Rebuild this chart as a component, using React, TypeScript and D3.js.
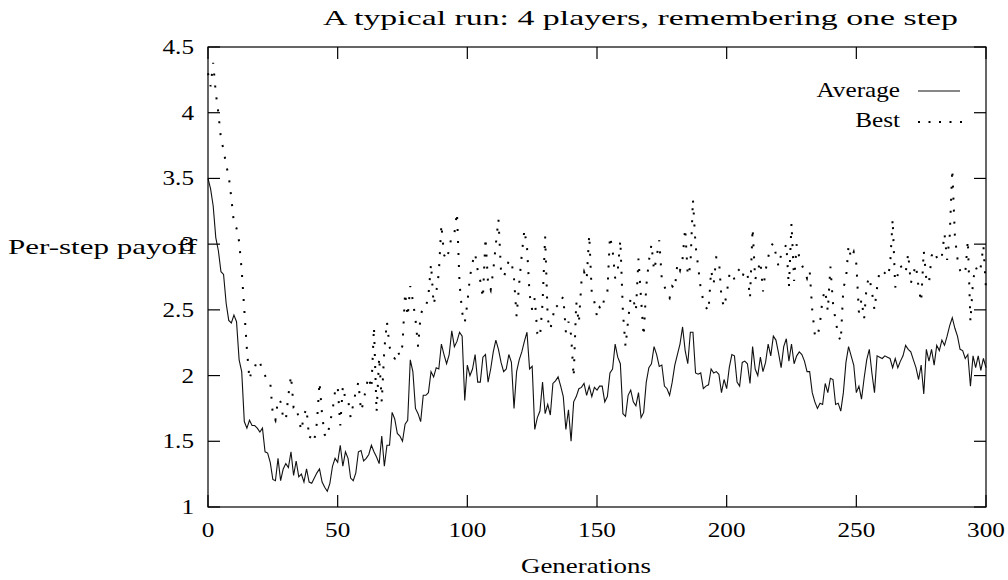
import React from "react";
import * as d3 from "d3";

const averagePayoff: number[] = [
  3.50,3.42,3.29,3.05,2.95,2.79,2.77,2.55,2.42,2.40,
  2.46,2.41,2.12,2.03,1.65,1.60,1.66,1.62,1.62,1.60,
  1.57,1.60,1.42,1.41,1.34,1.21,1.20,1.37,1.20,1.29,
  1.33,1.30,1.42,1.24,1.35,1.23,1.25,1.19,1.29,1.19,
  1.18,1.22,1.26,1.29,1.19,1.15,1.12,1.18,1.31,1.37,
  1.34,1.47,1.31,1.42,1.37,1.22,1.20,1.26,1.42,1.43,
  1.35,1.37,1.40,1.47,1.42,1.38,1.33,1.54,1.31,1.47,
  1.47,1.72,1.67,1.56,1.54,1.50,1.63,1.66,2.12,2.03,
  1.75,1.71,1.65,1.85,1.85,1.87,2.03,1.99,2.06,2.05,
  2.24,2.16,2.09,2.16,2.34,2.22,2.26,2.33,2.30,1.81,
  2.08,2.00,2.05,2.16,1.95,1.95,2.14,2.16,1.95,2.05,
  2.18,2.27,2.20,2.10,2.03,2.05,2.16,2.10,1.75,2.03,
  2.12,2.18,2.26,2.33,2.05,2.07,1.59,1.68,1.73,1.95,
  1.71,1.78,1.70,1.94,1.96,1.99,1.92,1.84,1.59,1.74,
  1.50,1.80,1.84,1.90,1.91,1.94,1.85,1.92,1.84,1.91,
  1.89,1.92,1.92,1.80,1.84,2.02,2.05,2.24,2.14,2.09,
  1.71,1.69,1.85,1.89,1.80,1.77,1.87,1.68,1.72,1.95,
  2.06,2.09,2.22,2.16,2.07,2.08,1.92,1.90,1.85,1.95,
  2.08,2.16,2.24,2.37,2.19,2.09,2.33,2.33,2.02,2.01,
  2.02,1.90,1.92,1.93,2.05,2.02,2.03,2.01,1.87,1.97,
  1.90,2.06,2.16,2.15,1.95,1.92,2.10,2.11,2.09,1.94,
  2.22,2.05,2.00,2.14,2.03,2.10,2.24,2.15,2.30,2.27,
  2.17,2.06,2.22,2.28,2.11,2.24,2.09,2.15,2.18,2.16,
  2.11,2.03,2.03,1.87,1.80,1.75,1.79,1.78,1.94,1.87,
  1.98,1.97,1.78,1.79,1.73,1.87,2.10,2.22,2.15,2.08,
  1.87,1.92,1.82,1.98,2.12,2.20,2.02,1.87,2.15,2.14,
  2.13,2.15,2.14,2.13,2.06,2.13,2.06,2.11,2.15,2.23,
  2.20,2.18,2.12,2.06,1.97,2.08,1.86,2.20,2.11,2.20,
  2.08,2.23,2.19,2.27,2.23,2.30,2.38,2.44,2.36,2.30,
  2.20,2.19,2.13,2.16,1.92,2.15,2.06,2.15,2.04,2.13,
  2.06,
];

const bestPayoff: number[] = [
  4.30,4.20,4.38,4.15,4.00,3.80,3.72,3.60,3.52,3.35,
  3.16,3.12,3.02,2.80,2.50,2.20,1.97,2.05,2.06,2.12,
  2.10,2.04,2.00,1.96,1.95,1.70,1.66,1.82,1.80,1.68,
  1.66,1.85,2.00,1.76,1.77,1.67,1.58,1.70,1.75,1.52,
  1.55,1.51,1.64,1.95,1.70,1.55,1.53,1.64,1.73,1.88,
  1.92,1.62,1.92,1.82,1.82,1.68,1.78,1.88,1.95,1.73,
  1.80,1.92,1.99,1.90,2.37,1.72,2.14,1.80,2.20,2.41,
  2.22,2.15,2.13,2.19,2.15,2.23,2.63,2.45,2.68,2.57,
  2.43,2.22,2.46,2.52,2.52,2.61,2.85,2.54,2.63,2.78,
  3.15,2.92,2.88,2.96,3.07,3.08,3.24,2.70,2.48,2.40,
  2.55,2.75,2.86,2.93,2.80,2.72,2.59,3.05,2.70,2.65,
  2.80,3.00,3.19,2.79,2.75,2.80,2.88,2.87,2.74,2.45,
  2.70,2.92,3.11,2.98,2.62,2.50,2.59,2.32,2.29,2.55,
  3.06,2.43,2.35,2.45,2.54,2.52,2.57,2.60,2.33,2.41,
  2.31,1.99,2.56,2.40,2.71,2.79,2.73,3.07,2.62,2.56,
  2.45,2.52,2.50,2.61,2.64,3.06,2.96,2.74,2.80,3.03,
  2.48,2.22,2.42,2.60,2.58,2.49,2.89,2.58,2.30,2.68,
  2.87,3.00,2.80,2.90,3.03,2.73,2.68,2.62,2.59,2.68,
  2.66,2.85,2.80,2.89,3.12,2.76,2.83,3.34,2.99,2.83,
  2.66,2.57,2.52,2.49,2.80,2.70,2.90,2.89,2.59,2.52,
  2.62,2.76,2.79,2.73,2.79,2.81,2.75,2.80,2.78,2.59,
  3.12,2.73,2.80,2.87,2.64,2.80,2.90,2.98,3.01,2.92,
  2.83,2.92,2.95,3.00,2.67,3.16,2.72,3.00,2.90,2.84,
  2.80,2.74,2.80,2.50,2.31,2.29,2.40,2.59,2.65,2.49,
  2.83,2.55,2.42,2.31,2.26,2.67,2.73,2.99,2.89,2.94,
  2.85,2.48,2.58,2.43,2.69,2.75,2.64,2.50,2.67,2.80,
  2.80,2.78,2.75,2.83,3.19,2.67,2.77,2.84,2.80,2.78,
  2.93,2.70,2.78,2.84,2.67,2.56,2.95,2.73,2.70,2.91,
  2.95,2.90,2.87,2.91,3.08,2.88,3.06,3.57,3.06,2.89,
  2.80,2.77,2.78,3.03,2.41,2.72,2.83,2.78,2.83,2.99,
  2.66,
];

const xTicks: number[] = [0, 50, 100, 150, 200, 250, 300];
const yTicks: number[] = [1, 1.5, 2, 2.5, 3, 3.5, 4, 4.5];
const yTickLabels: string[] = ["1", "1.5", "2", "2.5", "3", "3.5", "4", "4.5"];
const seriesNames: string[] = ["Average", "Best"];
const titleText = "A typical run: 4 players, remembering one step";
const xLabelText = "Generations";
const yLabelText = "Per-step payoff";

const W = 1008;
const H = 580;
const FONT = "'Liberation Serif', 'DejaVu Serif', serif";
const FS = 21;
const SX = 1.2;

function Label(props: { x: number; y: number; anchor?: string; children: string }) {
  const { x, y, anchor = "start", children } = props;
  return (
    <g transform={`translate(${x},${y}) scale(${SX},1)`}>
      <text x={0} y={0} textAnchor={anchor} fontFamily={FONT} fontSize={FS} fill="#000">
        {children}
      </text>
    </g>
  );
}

export default function App() {
  const x = d3.scaleLinear().domain([0, 300]).range([208, 986]);
  const y = d3.scaleLinear().domain([1, 4.5]).range([507, 47]);
  const [x0, x1] = x.range();
  const [y0, y1] = y.range();
  const tl = 12;

  const line = d3
    .line<number>()
    .x((_, i) => x(i))
    .y((d) => y(d));

  return (
    <svg
      width={W}
      height={H}
      viewBox={`0 0 ${W} ${H}`}
      style={{ position: "absolute", left: 0, top: 0, background: "#fff" }}
    >
      <rect x={0} y={0} width={W} height={H} fill="#fff" />
      {/* data */}
      <path d={line(averagePayoff) || ""} fill="none" stroke="#111" strokeWidth={1.1} strokeLinejoin="miter" />
      <path
        d={line(bestPayoff) || ""}
        fill="none"
        stroke="#000"
        strokeWidth={2}
        strokeDasharray="2,10"
      />
      {/* frame */}
      <rect x={x0} y={y1} width={x1 - x0} height={y0 - y1} fill="none" stroke="#000" strokeWidth={1.2} />
      {/* ticks */}
      {yTicks.map((t) => (
        <g key={"y" + t}>
          <line x1={x0} x2={x0 + tl} y1={y(t)} y2={y(t)} stroke="#000" strokeWidth={1.2} />
          <line x1={x1} x2={x1 - tl} y1={y(t)} y2={y(t)} stroke="#000" strokeWidth={1.2} />
        </g>
      ))}
      {xTicks.map((t) => (
        <g key={"x" + t}>
          <line x1={x(t)} x2={x(t)} y1={y0} y2={y0 - tl} stroke="#000" strokeWidth={1.2} />
          <line x1={x(t)} x2={x(t)} y1={y1} y2={y1 + tl} stroke="#000" strokeWidth={1.2} />
        </g>
      ))}
      {yTicks.map((t, i) => (
        <Label key={"yl" + t} x={194} y={y(t) + 7} anchor="end">
          {yTickLabels[i]}
        </Label>
      ))}
      {xTicks.map((t) => (
        <Label key={"xl" + t} x={x(t)} y={537} anchor="middle">
          {String(t)}
        </Label>
      ))}
      {/* axis labels and title */}
      <text x={323} y={25} fontFamily={FONT} fontSize={FS} textLength={635} lengthAdjust="spacingAndGlyphs">
        {titleText}
      </text>
      <text x={8} y={254} fontFamily={FONT} fontSize={FS} textLength={189} lengthAdjust="spacingAndGlyphs">
        {yLabelText}
      </text>
      <text x={586} y={573} textAnchor="middle" fontFamily={FONT} fontSize={FS} textLength={130} lengthAdjust="spacingAndGlyphs">
        {xLabelText}
      </text>
      {/* legend */}
      <Label x={900} y={97} anchor="end">{seriesNames[0]}</Label>
      <line x1={918} x2={960} y1={91} y2={91} stroke="#111" strokeWidth={1.1} />
      <Label x={900} y={127} anchor="end">{seriesNames[1]}</Label>
      <line x1={918} x2={962} y1={122} y2={122} stroke="#000" strokeWidth={2} strokeDasharray="2,8.5" />
    </svg>
  );
}
